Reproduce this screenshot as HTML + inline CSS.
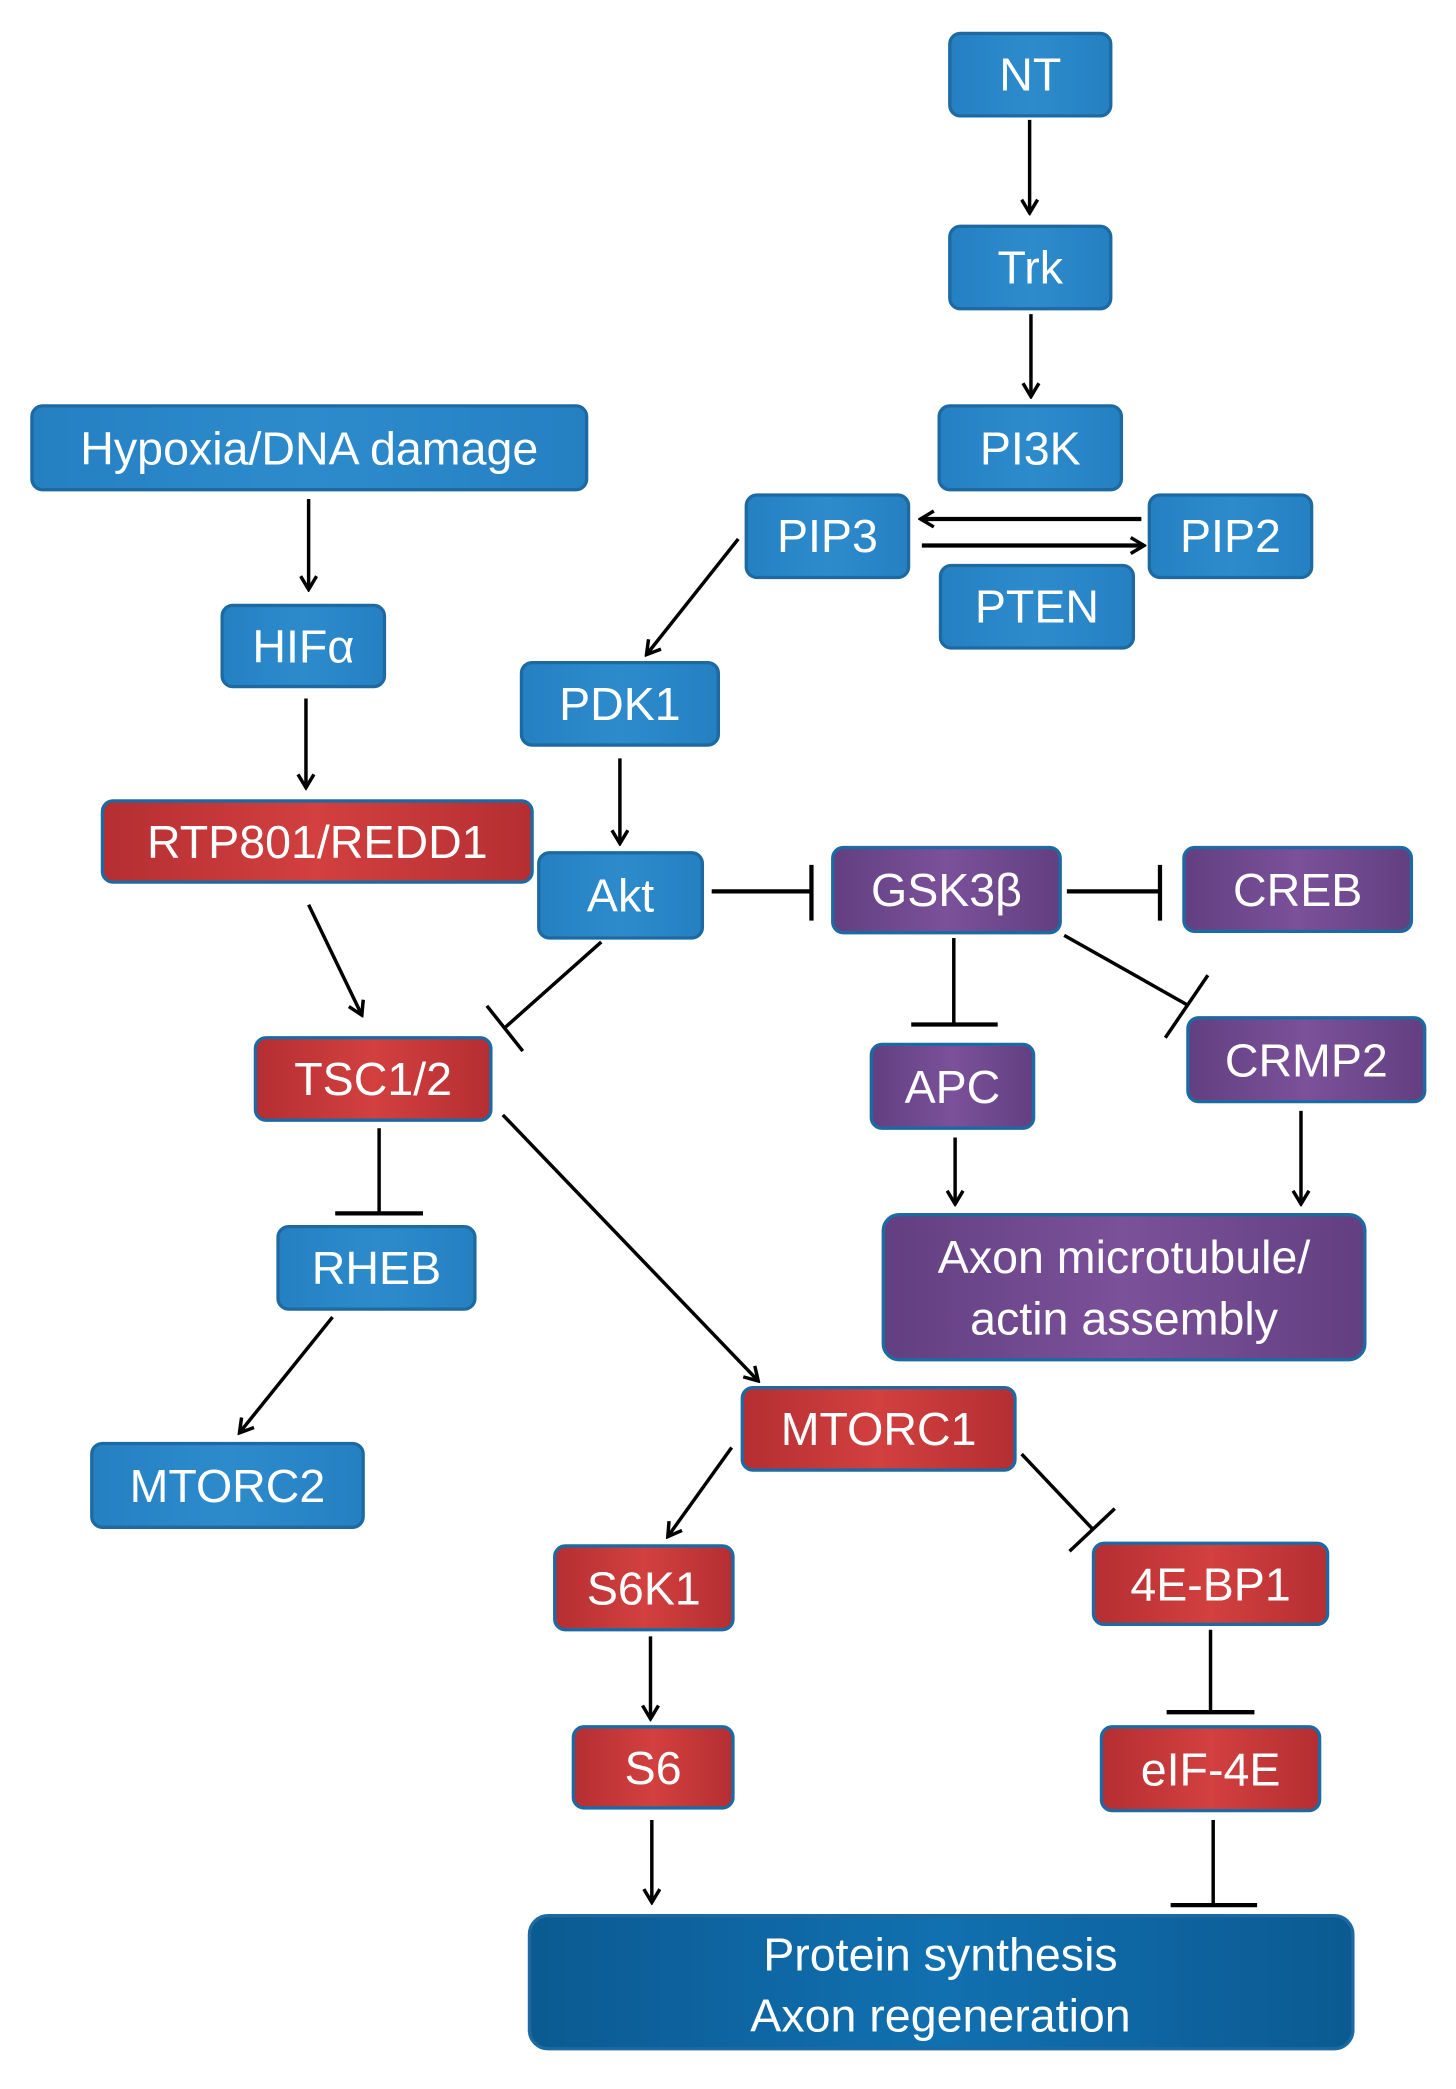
<!DOCTYPE html>
<html><head><meta charset="utf-8"><style>
html,body{margin:0;padding:0;background:#fff;width:1456px;height:2089px;overflow:hidden}
svg{display:block}
text{font-family:"Liberation Sans Narrow","Liberation Sans",sans-serif;fill:#fff;text-anchor:middle;dominant-baseline:central}
</style></head><body>
<svg width="1456" height="2089" viewBox="0 0 1100 1578" xmlns="http://www.w3.org/2000/svg">
<defs>
<linearGradient id="bl" x1="0" x2="1"><stop offset="0" stop-color="#2580c2"/><stop offset=".5" stop-color="#2d8bcc"/><stop offset="1" stop-color="#2580c2"/></linearGradient>
<linearGradient id="rd" x1="0" x2="1"><stop offset="0" stop-color="#b52e32"/><stop offset=".5" stop-color="#d2403f"/><stop offset="1" stop-color="#b52e32"/></linearGradient>
<linearGradient id="pp" x1="0" x2="1"><stop offset="0" stop-color="#623f80"/><stop offset=".5" stop-color="#7b519a"/><stop offset="1" stop-color="#623f80"/></linearGradient>
<linearGradient id="db" x1="0" x2="1"><stop offset="0" stop-color="#0b5a92"/><stop offset=".5" stop-color="#1170b0"/><stop offset="1" stop-color="#0b5a92"/></linearGradient>
<marker id="a" markerWidth="14" markerHeight="14" refX="12" refY="7" orient="auto" markerUnits="userSpaceOnUse"><polyline points="2,1 12,7 2,13" fill="none" stroke="#000" stroke-width="2.6"/></marker>
</defs>
<g transform="scale(1.005)">
<g stroke="#1d6aa3" stroke-width="2.5">
<rect x="714" y="25" width="121" height="62" rx="8" fill="url(#bl)"/>
<rect x="714" y="170" width="121" height="62" rx="8" fill="url(#bl)"/>
<rect x="706" y="305" width="137" height="63" rx="8" fill="url(#bl)"/>
<rect x="24" y="305" width="417" height="63" rx="8" fill="url(#bl)"/>
<rect x="561" y="372" width="122" height="62" rx="8" fill="url(#bl)"/>
<rect x="864" y="372" width="122" height="62" rx="8" fill="url(#bl)"/>
<rect x="707" y="425" width="145" height="62" rx="8" fill="url(#bl)"/>
<rect x="167" y="455" width="122" height="61" rx="8" fill="url(#bl)"/>
<rect x="392" y="498" width="148" height="62" rx="8" fill="url(#bl)"/>
<rect x="77" y="602" width="323" height="61" rx="8" fill="url(#rd)"/>
<rect x="405" y="641" width="123" height="64" rx="8" fill="url(#bl)"/>
<rect x="626" y="637" width="171" height="64" rx="8" fill="url(#pp)"/>
<rect x="890" y="637" width="171" height="63" rx="8" fill="url(#pp)"/>
<rect x="192" y="780" width="177" height="62" rx="8" fill="url(#rd)"/>
<rect x="655" y="785" width="122" height="63" rx="8" fill="url(#pp)"/>
<rect x="893" y="765" width="178" height="63" rx="8" fill="url(#pp)"/>
<rect x="209" y="922" width="148" height="62" rx="8" fill="url(#bl)"/>
<rect x="664" y="913" width="362" height="109" rx="12" fill="url(#pp)"/>
<rect x="558" y="1043" width="205" height="62" rx="8" fill="url(#rd)"/>
<rect x="69" y="1085" width="204" height="63" rx="8" fill="url(#bl)"/>
<rect x="417" y="1162" width="134" height="63" rx="8" fill="url(#rd)"/>
<rect x="822" y="1160" width="176" height="61" rx="8" fill="url(#rd)"/>
<rect x="431" y="1298" width="120" height="61" rx="8" fill="url(#rd)"/>
<rect x="828" y="1298" width="164" height="63" rx="8" fill="url(#rd)"/>
<rect x="398" y="1440" width="619" height="100" rx="14" fill="url(#db)"/>
</g>
<g font-size="35">
<text x="774.5" y="56">NT</text>
<text x="774.5" y="201">Trk</text>
<text x="774.5" y="337">PI3K</text>
<text x="232.5" y="337">Hypoxia/DNA damage</text>
<text x="622" y="403">PIP3</text>
<text x="925" y="403">PIP2</text>
<text x="779.5" y="456">PTEN</text>
<text x="228" y="486">HIFα</text>
<text x="466" y="529">PDK1</text>
<text x="238.5" y="633">RTP801/REDD1</text>
<text x="466.5" y="673">Akt</text>
<text x="711.5" y="669">GSK3β</text>
<text x="975.5" y="669">CREB</text>
<text x="280.5" y="811">TSC1/2</text>
<text x="716" y="817">APC</text>
<text x="982" y="797">CRMP2</text>
<text x="283" y="953">RHEB</text>
<text x="845" y="945">Axon microtubule/</text>
<text x="845" y="991">actin assembly</text>
<text x="660.5" y="1074">MTORC1</text>
<text x="171" y="1117">MTORC2</text>
<text x="484" y="1194">S6K1</text>
<text x="910" y="1191">4E-BP1</text>
<text x="491" y="1329">S6</text>
<text x="910" y="1330">eIF-4E</text>
<text x="707" y="1469">Protein synthesis</text>
<text x="707" y="1515">Axon regeneration</text>
</g>
<g stroke="#000" stroke-width="2.6" fill="none">
<line x1="774" y1="90" x2="774" y2="160" marker-end="url(#a)"/>
<line x1="775" y1="236" x2="775" y2="298" marker-end="url(#a)"/>
<line x1="858" y1="390" x2="692" y2="390" marker-end="url(#a)" stroke-width="3.2"/>
<line x1="693" y1="410" x2="860" y2="410" marker-end="url(#a)" stroke-width="3.2"/>
<line x1="555" y1="405" x2="486" y2="492" marker-end="url(#a)"/>
<line x1="232" y1="375" x2="232" y2="443" marker-end="url(#a)"/>
<line x1="230" y1="525" x2="230" y2="592" marker-end="url(#a)"/>
<line x1="466" y1="570" x2="466" y2="634" marker-end="url(#a)"/>
<line x1="232" y1="680" x2="272" y2="763" marker-end="url(#a)"/>
<line x1="535" y1="670" x2="610" y2="670" stroke-width="3.2"/>
<line x1="610" y1="650" x2="610" y2="692" stroke-width="3.2"/>
<line x1="802" y1="670" x2="872" y2="670" stroke-width="3.2"/>
<line x1="872" y1="650" x2="872" y2="692" stroke-width="3.2"/>
<line x1="452" y1="708" x2="380" y2="772"/>
<line x1="366" y1="756" x2="393" y2="790"/>
<line x1="717" y1="705" x2="717" y2="770"/>
<line x1="685" y1="770" x2="750" y2="770" stroke-width="3.2"/>
<line x1="800" y1="703" x2="892" y2="755"/>
<line x1="876" y1="780" x2="908" y2="733"/>
<line x1="718" y1="855" x2="718" y2="905" marker-end="url(#a)"/>
<line x1="978" y1="835" x2="978" y2="905" marker-end="url(#a)"/>
<line x1="285" y1="848" x2="285" y2="912"/>
<line x1="252" y1="912" x2="318" y2="912" stroke-width="3.2"/>
<line x1="378" y1="838" x2="570" y2="1038" marker-end="url(#a)"/>
<line x1="250" y1="990" x2="180" y2="1077" marker-end="url(#a)"/>
<line x1="550" y1="1088" x2="502" y2="1155" marker-end="url(#a)"/>
<line x1="768" y1="1093" x2="822" y2="1150"/>
<line x1="804" y1="1166" x2="838" y2="1134"/>
<line x1="489" y1="1230" x2="489" y2="1292" marker-end="url(#a)"/>
<line x1="910" y1="1225" x2="910" y2="1287"/>
<line x1="877" y1="1287" x2="943" y2="1287" stroke-width="3.2"/>
<line x1="490" y1="1368" x2="490" y2="1430" marker-end="url(#a)"/>
<line x1="912" y1="1368" x2="912" y2="1432"/>
<line x1="880" y1="1432" x2="945" y2="1432" stroke-width="3.2"/>
</g>
</g>
</svg>
</body></html>
